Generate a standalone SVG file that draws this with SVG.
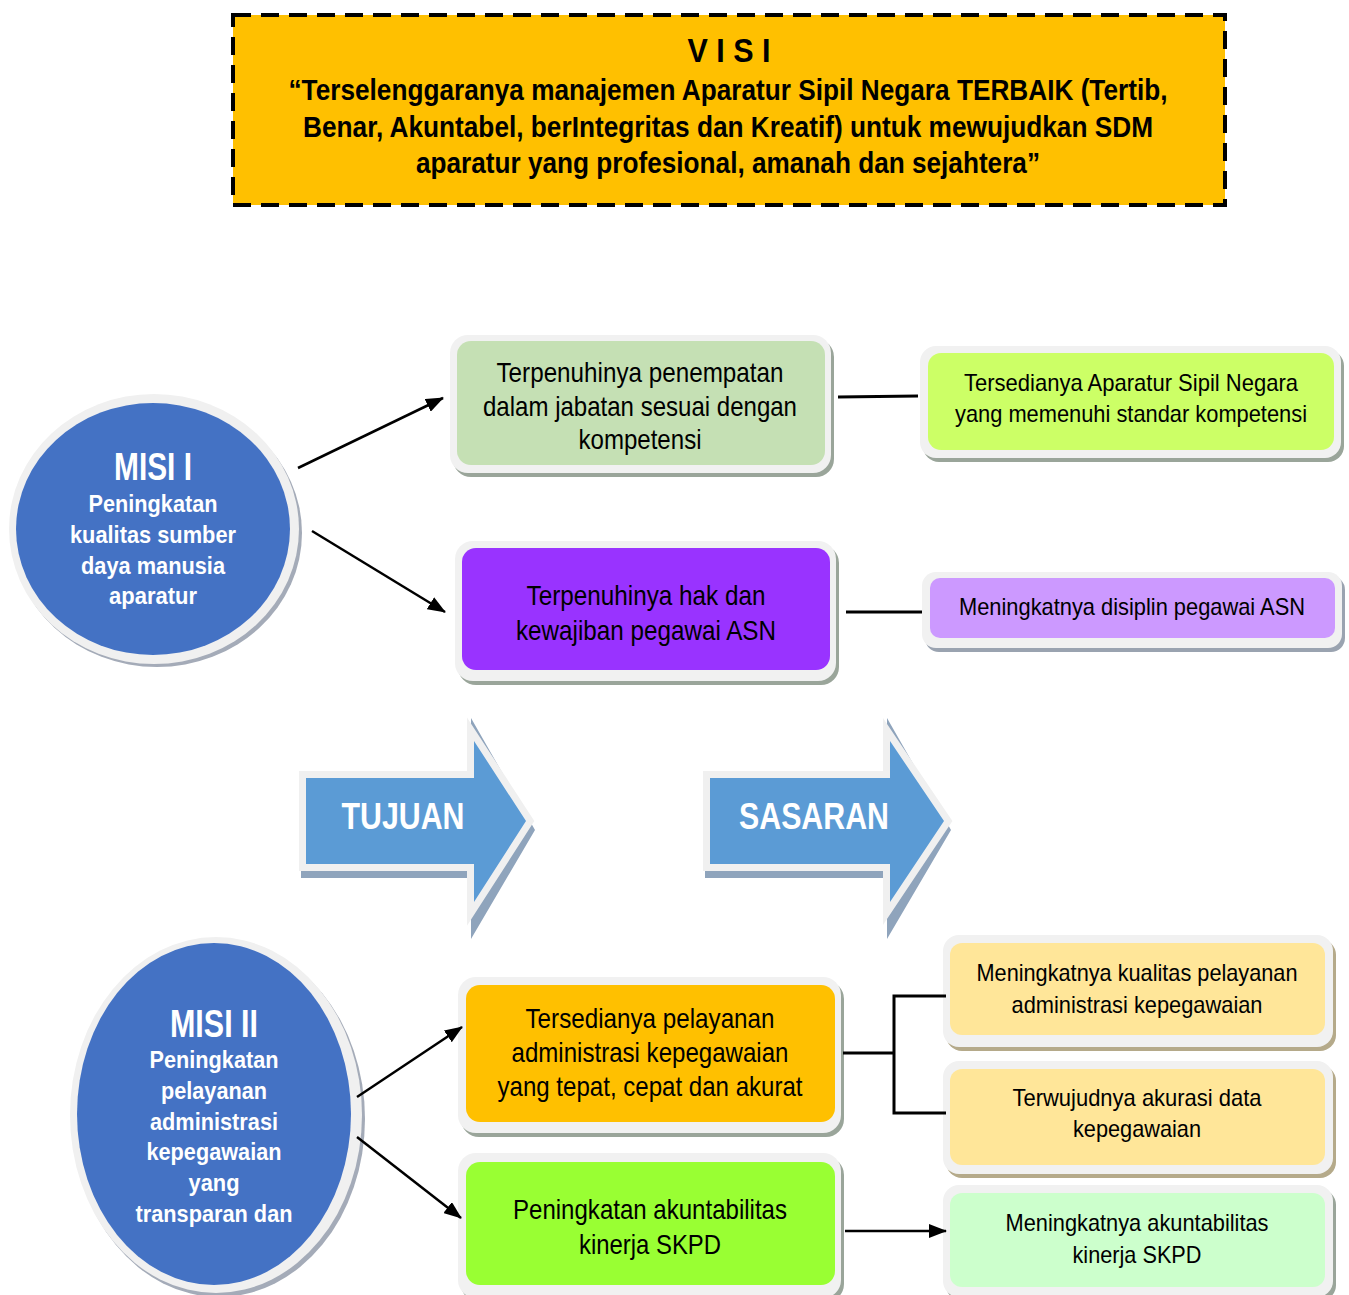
<svg xmlns="http://www.w3.org/2000/svg" width="1349" height="1295" viewBox="0 0 1349 1295">
<defs>
<style>
.t{font-family:"Liberation Sans",Arial,sans-serif;fill:#000;text-anchor:middle}
.b{font-weight:bold}
.w{fill:#fff}
.frame{fill:#F1F1F1}
.sh{fill:#9AA59A}
.con{stroke:#000;stroke-width:3;fill:none}
.ar{stroke:#000;stroke-width:2.5;fill:none}
</style>
<marker id="ah" viewBox="0 0 18 14" refX="17" refY="7" markerWidth="18" markerHeight="14" orient="auto" markerUnits="userSpaceOnUse">
<path d="M0,0 L18,7 L0,14 z" fill="#000"/>
</marker>
</defs>
<rect width="1349" height="1295" fill="#fff"/>

<g id="visi">
<rect x="233" y="15" width="992" height="190" fill="#FFC000" stroke="#000" stroke-width="4" stroke-dasharray="18,10"/>
<text class="t b" x="729" y="62" font-size="33" textLength="83" lengthAdjust="spacingAndGlyphs">V I S I</text>
<text class="t b" x="728" y="100" font-size="30" textLength="879" lengthAdjust="spacingAndGlyphs">“Terselenggaranya manajemen Aparatur Sipil Negara TERBAIK (Tertib,</text>
<text class="t b" x="728" y="137" font-size="30" textLength="850" lengthAdjust="spacingAndGlyphs">Benar, Akuntabel, berIntegritas dan Kreatif) untuk mewujudkan SDM</text>
<text class="t b" x="728" y="173" font-size="30" textLength="624" lengthAdjust="spacingAndGlyphs">aparatur yang profesional, amanah dan sejahtera”</text>
</g>

<g id="misi1">
<ellipse cx="157" cy="533" rx="145" ry="134" fill="#A4ABB8"/>
<ellipse cx="154" cy="529" rx="145" ry="135" fill="#F0F0F0"/>
<ellipse cx="153" cy="529" rx="137" ry="126" fill="#4472C4"/>
<text class="t b w" x="153" y="480" font-size="38" textLength="78" lengthAdjust="spacingAndGlyphs">MISI I</text>
<text class="t b w" x="153" y="512" font-size="24" textLength="129" lengthAdjust="spacingAndGlyphs">Peningkatan</text>
<text class="t b w" x="153" y="543" font-size="24" textLength="166" lengthAdjust="spacingAndGlyphs">kualitas sumber</text>
<text class="t b w" x="153" y="574" font-size="24" textLength="144" lengthAdjust="spacingAndGlyphs">daya manusia</text>
<text class="t b w" x="153" y="604" font-size="24" textLength="88" lengthAdjust="spacingAndGlyphs">aparatur</text>
</g>

<g id="tujuan1">
<rect x="453" y="339" width="381" height="138" rx="18" class="sh"/>
<rect x="450" y="335" width="381" height="138" rx="18" class="frame"/>
<rect x="457" y="341" width="368" height="124" rx="14" fill="#C5E0B4"/>
<text class="t" x="640" y="382" font-size="28" textLength="287" lengthAdjust="spacingAndGlyphs">Terpenuhinya penempatan</text>
<text class="t" x="640" y="416" font-size="28" textLength="314" lengthAdjust="spacingAndGlyphs">dalam jabatan sesuai dengan</text>
<text class="t" x="640" y="449" font-size="28" textLength="123" lengthAdjust="spacingAndGlyphs">kompetensi</text>
</g>

<g id="sasaran1">
<rect x="923" y="350" width="421" height="112" rx="16" class="sh"/>
<rect x="920" y="346" width="421" height="112" rx="16" class="frame"/>
<rect x="928" y="353" width="406" height="97" rx="13" fill="#CCFF66"/>
<text class="t" x="1131" y="391" font-size="24" textLength="334" lengthAdjust="spacingAndGlyphs">Tersedianya Aparatur Sipil Negara</text>
<text class="t" x="1131" y="422" font-size="24" textLength="352" lengthAdjust="spacingAndGlyphs">yang memenuhi standar kompetensi</text>
</g>

<g id="tujuan2">
<rect x="458" y="545" width="381" height="140" rx="18" class="sh"/>
<rect x="455" y="541" width="381" height="140" rx="18" class="frame"/>
<rect x="462" y="548" width="368" height="122" rx="14" fill="#9933FF"/>
<text class="t" x="646" y="605" font-size="28" textLength="239" lengthAdjust="spacingAndGlyphs">Terpenuhinya hak dan</text>
<text class="t" x="646" y="640" font-size="28" textLength="260" lengthAdjust="spacingAndGlyphs">kewajiban pegawai ASN</text>
</g>

<g id="sasaran2">
<rect x="925" y="576" width="420" height="76" rx="14" fill="#9AA3B0"/>
<rect x="922" y="572" width="420" height="76" rx="14" class="frame"/>
<rect x="930" y="578" width="405" height="60" rx="10" fill="#CC99FF"/>
<text class="t" x="1132" y="615" font-size="24" textLength="346" lengthAdjust="spacingAndGlyphs">Meningkatnya disiplin pegawai ASN</text>
</g>

<g id="arrow-tujuan">
<path d="M301,774 H471 V718 L535,830 L471,939 V878 H301 Z" fill="#8FA4BC"/>
<path d="M306,778 H474 V741 L526,821 L474,902 V864 H306 Z" fill="#5B9BD5" stroke="#F0F0F0" stroke-width="14" stroke-linejoin="miter" paint-order="stroke"/>
<text class="t b w" x="403" y="829" font-size="37" textLength="123" lengthAdjust="spacingAndGlyphs">TUJUAN</text>
</g>

<g id="arrow-sasaran">
<path d="M705,774 H887 V718 L951,830 L887,939 V878 H705 Z" fill="#8FA4BC"/>
<path d="M710,778 H890 V741 L944,821 L890,902 V864 H710 Z" fill="#5B9BD5" stroke="#F0F0F0" stroke-width="14" stroke-linejoin="miter" paint-order="stroke"/>
<text class="t b w" x="814" y="829" font-size="37" textLength="150" lengthAdjust="spacingAndGlyphs">SASARAN</text>
</g>

<g id="misi2">
<ellipse cx="219" cy="1119" rx="146" ry="178" fill="#A4ABB8"/>
<ellipse cx="216" cy="1115" rx="146" ry="178" fill="#F0F0F0"/>
<ellipse cx="214" cy="1114" rx="137" ry="171" fill="#4472C4"/>
<text class="t b w" x="214" y="1037" font-size="38" textLength="88" lengthAdjust="spacingAndGlyphs">MISI II</text>
<text class="t b w" x="214" y="1068" font-size="24" textLength="129" lengthAdjust="spacingAndGlyphs">Peningkatan</text>
<text class="t b w" x="214" y="1099" font-size="24" textLength="106" lengthAdjust="spacingAndGlyphs">pelayanan</text>
<text class="t b w" x="214" y="1130" font-size="24" textLength="128" lengthAdjust="spacingAndGlyphs">administrasi</text>
<text class="t b w" x="214" y="1160" font-size="24" textLength="135" lengthAdjust="spacingAndGlyphs">kepegawaian</text>
<text class="t b w" x="214" y="1191" font-size="24" textLength="51" lengthAdjust="spacingAndGlyphs">yang</text>
<text class="t b w" x="214" y="1222" font-size="24" textLength="157" lengthAdjust="spacingAndGlyphs">transparan dan</text>
</g>

<g id="tujuan3">
<rect x="461" y="981" width="383" height="156" rx="18" class="sh"/>
<rect x="458" y="977" width="383" height="156" rx="18" class="frame"/>
<rect x="466" y="985" width="369" height="137" rx="14" fill="#FFC000"/>
<text class="t" x="650" y="1028" font-size="28" textLength="249" lengthAdjust="spacingAndGlyphs">Tersedianya pelayanan</text>
<text class="t" x="650" y="1062" font-size="28" textLength="277" lengthAdjust="spacingAndGlyphs">administrasi kepegawaian</text>
<text class="t" x="650" y="1096" font-size="28" textLength="305" lengthAdjust="spacingAndGlyphs">yang tepat, cepat dan akurat</text>
</g>

<g id="tujuan4">
<rect x="461" y="1157" width="383" height="145" rx="18" class="sh"/>
<rect x="458" y="1153" width="383" height="145" rx="18" class="frame"/>
<rect x="466" y="1162" width="369" height="123" rx="14" fill="#99FF33"/>
<text class="t" x="650" y="1219" font-size="28" textLength="274" lengthAdjust="spacingAndGlyphs">Peningkatan akuntabilitas</text>
<text class="t" x="650" y="1254" font-size="28" textLength="142" lengthAdjust="spacingAndGlyphs">kinerja SKPD</text>
</g>

<g id="sasaran3">
<rect x="946" y="939" width="390" height="112" rx="16" fill="#B5AA8A"/>
<rect x="943" y="935" width="390" height="112" rx="16" class="frame"/>
<rect x="950" y="943" width="375" height="92" rx="12" fill="#FFE699"/>
<text class="t" x="1137" y="981" font-size="24" textLength="321" lengthAdjust="spacingAndGlyphs">Meningkatnya kualitas pelayanan</text>
<text class="t" x="1137" y="1013" font-size="24" textLength="251" lengthAdjust="spacingAndGlyphs">administrasi kepegawaian</text>
</g>

<g id="sasaran4">
<rect x="946" y="1065" width="390" height="113" rx="16" fill="#B5AA8A"/>
<rect x="943" y="1061" width="390" height="113" rx="16" class="frame"/>
<rect x="950" y="1069" width="375" height="96" rx="12" fill="#FFE699"/>
<text class="t" x="1137" y="1106" font-size="24" textLength="249" lengthAdjust="spacingAndGlyphs">Terwujudnya akurasi data</text>
<text class="t" x="1137" y="1137" font-size="24" textLength="128" lengthAdjust="spacingAndGlyphs">kepegawaian</text>
</g>

<g id="sasaran5">
<rect x="946" y="1189" width="390" height="112" rx="16" class="sh"/>
<rect x="943" y="1185" width="390" height="112" rx="16" class="frame"/>
<rect x="950" y="1193" width="375" height="94" rx="12" fill="#CCFFCC"/>
<text class="t" x="1137" y="1231" font-size="24" textLength="263" lengthAdjust="spacingAndGlyphs">Meningkatnya akuntabilitas</text>
<text class="t" x="1137" y="1263" font-size="24" textLength="129" lengthAdjust="spacingAndGlyphs">kinerja SKPD</text>
</g>

<g id="connectors">
<line x1="298" y1="468" x2="443" y2="398" class="ar" marker-end="url(#ah)"/>
<line x1="312" y1="531" x2="445" y2="612" class="ar" marker-end="url(#ah)"/>
<line x1="838" y1="397" x2="918" y2="396" class="con"/>
<line x1="846" y1="612" x2="922" y2="612" class="con"/>
<line x1="357" y1="1097" x2="462" y2="1027" class="ar" marker-end="url(#ah)"/>
<line x1="357" y1="1137" x2="461" y2="1218" class="ar" marker-end="url(#ah)"/>
<polyline points="843,1053 894,1053" class="con"/>
<polyline points="946,996 894,996 894,1113 946,1113" class="con"/>
<line x1="845" y1="1231" x2="946" y2="1231" class="ar" marker-end="url(#ah)"/>
</g>
</svg>
